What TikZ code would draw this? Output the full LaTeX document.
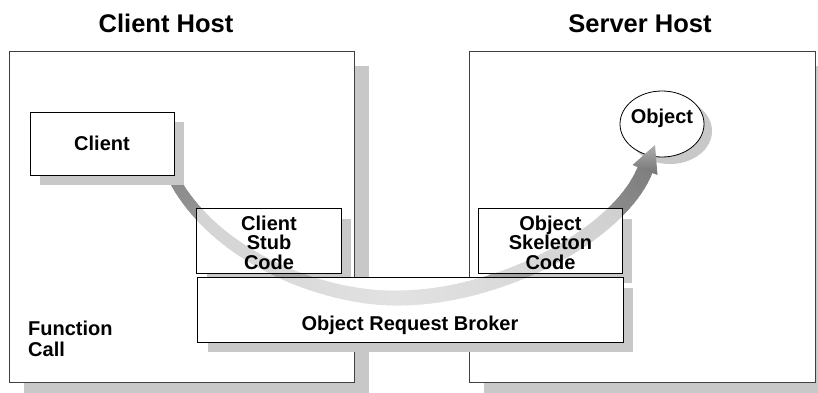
\documentclass[tikz,border=0pt]{standalone}
\usepackage{fontspec}
\setmainfont{Liberation Sans}
\usetikzlibrary{shapes.geometric}
\definecolor{shadowgray}{HTML}{C8C8C8}
\definecolor{hostline}{HTML}{404040}
\begin{document}
\begin{tikzpicture}[x=1pt,y=-1pt,
  shadowfill/.style={fill=shadowgray, draw=none},
  hostbox/.style={draw=hostline, line width=0.9pt, fill=white, inner sep=0pt},
  plainbox/.style={fill=white, draw=none, inner sep=0pt},
  innerline/.style={draw=black, line width=1pt},
  lbl/.style={font=\bfseries\fontsize{20}{19.6}\selectfont, inner sep=0pt, align=center},
  ttl/.style={font=\bfseries\fontsize{25.5}{28}\selectfont, inner sep=0pt}
]
\useasboundingbox (0,0) rectangle (818,392);
\clip (0,0) rectangle (818,392);
\fill[white] (0,0) rectangle (818,392);

% host boxes with shadows
\coordinate (chshadowA) at (24,66);
\coordinate (chshadowB) at (369,397);
\fill[shadowfill] (chshadowA) rectangle (chshadowB);
\coordinate (shshadowA) at (484,66);
\coordinate (shshadowB) at (830,397);
\fill[shadowfill] (shshadowA) rectangle (shshadowB);
\node[hostbox, minimum width=345pt, minimum height=331pt] (clienthost) at (181.5,216.5) {};
\node[hostbox, minimum width=346pt, minimum height=331pt] (serverhost) at (642,216.5) {};

% inner boxes (fills)
\node[plainbox, minimum width=144pt, minimum height=64pt] (stub) at (269,241) {};
\node[plainbox, minimum width=143pt, minimum height=64pt] (skel) at (550.5,241) {};
\node[plainbox, minimum width=425pt, minimum height=64pt] (orb) at (410.5,310) {};
\fill[shadowfill] ([shift={(10,10)}]stub.north west) rectangle ([shift={(10,10)}]stub.south east);
\fill[shadowfill] ([shift={(10,10)}]skel.north west) rectangle ([shift={(10,10)}]skel.south east);
\fill[shadowfill] ([shift={(10,10)}]orb.north west) rectangle ([shift={(10,10)}]orb.south east);
\fill[white] (stub.north west) rectangle (stub.south east);
\fill[white] (skel.north west) rectangle (skel.south east);
\fill[white] (orb.north west) rectangle (orb.south east);

% object ellipse with shadow
\coordinate (objshadow) at (670,131);
\fill[shadowfill] (objshadow) ellipse [x radius=42, y radius=33];
\node[ellipse, draw=black, line width=0.8pt, fill=white, minimum width=84pt, minimum height=66pt, inner sep=0pt] (obj) at (662,124) {};

% curved arrow
\coordinate (tail) at (176,183);
\coordinate (c1a) at (222,262);
\coordinate (c1b) at (330,300);
\coordinate (bottom) at (400,298);
\coordinate (c2a) at (500,297);
\coordinate (c2b) at (619,235);
\coordinate (headbase) at (645,170);
\coordinate (tip) at (655,145);
\coordinate (hl) at (632.5,165);
\coordinate (hr) at (657.5,175);
\foreach \i in {0,...,40} {
  \path (tail) .. controls (c1a) and (c1b) .. (bottom) coordinate[pos=\i/40] (pa\i);
  \path (bottom) .. controls (c2a) and (c2b) .. (headbase) coordinate[pos=\i/40] (pb\i);
}
\foreach \i [evaluate=\i as \j using int(\i+1), evaluate=\i as \c using 45-17*\i/40, evaluate=\i as \w using 11+4*\i/40] in {0,...,39} {
  \draw[line width=\w pt, color=black!\c, line cap=round] (pa\i) -- (pa\j);
}
\foreach \i [evaluate=\i as \j using int(\i+1), evaluate=\i as \c using 28+22*\i/40, evaluate=\i as \w using 15+1*\i/40] in {0,...,39} {
  \draw[line width=\w pt, color=black!\c, line cap=round] (pb\i) -- (pb\j);
}
\shade[left color=black!32, right color=black!55, shading angle=0] (tip) -- (hl) -- (hr) -- cycle;

% lighten the arrow inside the inner boxes
\fill[white, opacity=0.6] (stub.north west) rectangle (stub.south east);
\fill[white, opacity=0.6] (skel.north west) rectangle (skel.south east);
\fill[white, opacity=0.6] (orb.north west) rectangle (orb.south east);

% client box
\coordinate (clshadowA) at (40,122);
\coordinate (clshadowB) at (184,185);
\fill[shadowfill] (clshadowA) rectangle (clshadowB);
\node[draw=black, line width=1pt, fill=white, minimum width=144pt, minimum height=63pt, lbl] (client) at (102,143.5) {Client};

% inner box borders
\draw[innerline] (stub.north west) rectangle (stub.south east);
\draw[innerline] (skel.north west) rectangle (skel.south east);
\draw[innerline] (orb.north west) rectangle (orb.south east);

% texts
\node[ttl, anchor=base] (clienthosttitle) at (166,32) {Client Host};
\node[ttl, anchor=base] (serverhosttitle) at (640,32) {Server Host};
\node[lbl] (stubtext) at (269,242.5) {Client\\Stub\\Code};
\node[lbl] (skeltext) at (550.5,242.5) {Object\\Skeleton\\Code};
\node[lbl, anchor=base] (orbtext) at (410,330) {Object Request Broker};
\node[lbl, anchor=base] (objtext) at (662,123.5) {Object};
\node[lbl, align=left, anchor=north west, font=\bfseries\fontsize{20}{20.5}\selectfont] (fcall) at (28,321) {Function\\Call};
\end{tikzpicture}
\end{document}
